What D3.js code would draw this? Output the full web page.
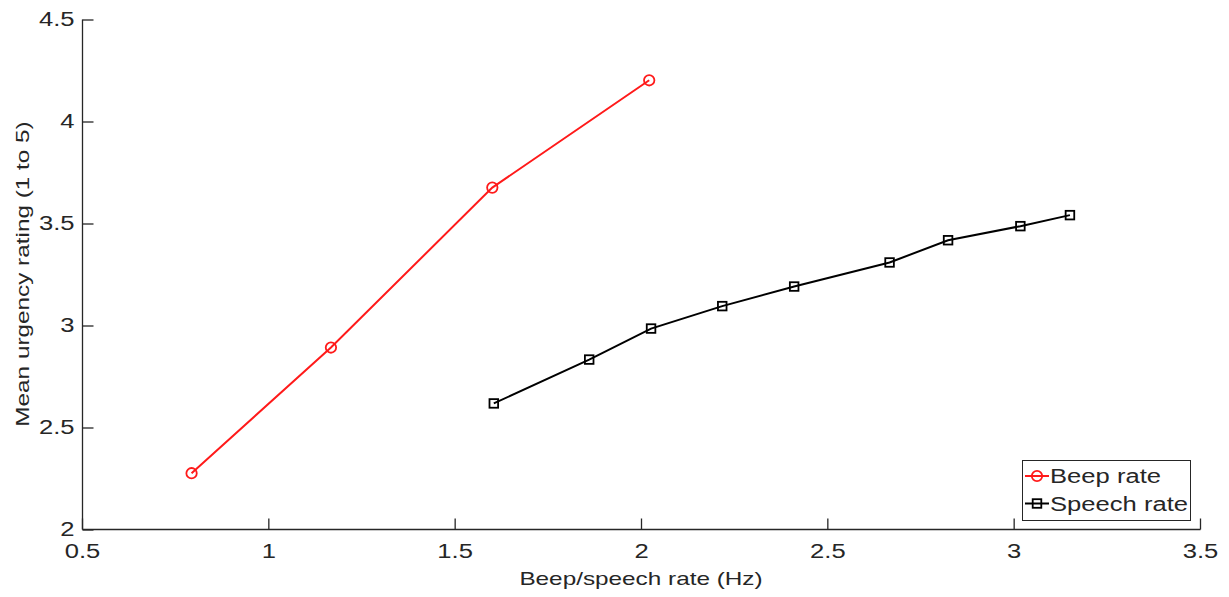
<!DOCTYPE html>
<html>
<head>
<meta charset="utf-8">
<script src="https://cdn.jsdelivr.net/npm/d3@7"></script>
<style>
    body { margin: 0; background: #fff; }
    text { font-family: "Liberation Sans", Arial, sans-serif; fill: #262626; }
</style>
</head>
<body>
<svg width="1229" height="597"></svg>
<script>
"use strict";

// Data
var beepRate = [0.794, 1.168, 1.601, 2.022];
var beepUrgency = [2.276, 2.892, 3.676, 4.202];

var speechRate = [1.605, 1.861, 2.027, 2.218, 2.411, 2.667, 2.824, 3.018, 3.151];
var speechUrgency = [2.618, 2.833, 2.985, 3.095, 3.191, 3.309, 3.418, 3.487, 3.541];

var xTicks = [0.5, 1, 1.5, 2, 2.5, 3, 3.5];
var yTicks = [2, 2.5, 3, 3.5, 4, 4.5];
var seriesNames = ["Beep rate", "Speech rate"];

// the reference text is drawn wider than it is tall
var stretch = 1.28;

var svg = d3.select("svg");

// Scales
var xScale = d3.scaleLinear()
    .domain([0.5, 3.5])
    .range([82, 1200]);

var yScale = d3.scaleLinear()
    .domain([2, 4.5])
    .range([529.5, 19.5]);

// Axes (ticks point inward)
var xAxis = d3.axisBottom(xScale)
    .tickValues(xTicks)
    .tickFormat(d3.format("~g"))
    .tickSize(-11)
    .tickPadding(23);

var yAxis = d3.axisLeft(yScale)
    .tickValues(yTicks)
    .tickFormat(d3.format("~g"))
    .tickSize(-11)
    .tickPadding(8);

var gx = svg.append("g")
    .attr("class", "x axis")
    .attr("transform", "translate(0, 529.5)")
    .call(xAxis);

var gy = svg.append("g")
    .attr("class", "y axis")
    .attr("transform", "translate(82.5, 0)")
    .call(yAxis);

svg.selectAll(".axis path, .axis line")
    .attr("stroke", "#262626")
    .attr("stroke-width", 1.3);
svg.selectAll(".axis path").attr("d", function() {
    return d3.select(this.parentNode).classed("x")
        ? "M82.5,0H1200.5"
        : "M0,19.5V529.5";
});
svg.selectAll(".axis text")
    .style("font-size", "20px")
    .attr("fill", "#262626");
gx.selectAll("text").attr("dy", "0.3em");
gy.selectAll("text").attr("x", -8);

// Axis labels
svg.append("text")
    .attr("class", "stretch")
    .attr("x", 641)
    .attr("y", 585)
    .style("text-anchor", "middle")
    .style("font-size", "19px")
    .text("Beep/speech rate (Hz)");

svg.append("text")
    .attr("transform", "translate(29, 274) rotate(-90) scale(" + stretch + ",1)")
    .style("text-anchor", "middle")
    .style("font-size", "19px")
    .text("Mean urgency rating (1 to 5)");

var line = d3.line()
    .x(function(d) { return xScale(d[0]); })
    .y(function(d) { return yScale(d[1]); });

// Beep series
var beepData = d3.zip(beepRate, beepUrgency);
svg.append("path")
    .datum(beepData)
    .attr("d", line)
    .attr("fill", "none")
    .attr("stroke", "#ff1a1a")
    .attr("stroke-width", 2);

svg.append("g")
    .selectAll("circle")
    .data(beepData)
    .enter().append("circle")
        .attr("cx", function(d) { return xScale(d[0]); })
        .attr("cy", function(d) { return yScale(d[1]); })
        .attr("r", 5.2)
        .attr("fill", "none")
        .attr("stroke", "#ff1a1a")
        .attr("stroke-width", 1.8);

// Speech series
var speechData = d3.zip(speechRate, speechUrgency);
svg.append("path")
    .datum(speechData)
    .attr("d", line)
    .attr("fill", "none")
    .attr("stroke", "#000")
    .attr("stroke-width", 2);

svg.append("g")
    .selectAll("rect")
    .data(speechData)
    .enter().append("rect")
        .attr("x", function(d) { return xScale(d[0]) - 4.3; })
        .attr("y", function(d) { return yScale(d[1]) - 4.3; })
        .attr("width", 8.6)
        .attr("height", 8.6)
        .attr("fill", "none")
        .attr("stroke", "#000")
        .attr("stroke-width", 1.8);

// Legend
var legend = svg.append("g")
    .attr("class", "legend")
    .attr("transform", "translate(1022, 460)");

legend.append("rect")
    .attr("x", 0.5)
    .attr("y", 0.5)
    .attr("width", 168)
    .attr("height", 60)
    .attr("fill", "#fff")
    .attr("stroke", "#262626")
    .attr("stroke-width", 1);

var colors = ["#ff1a1a", "#000"];
seriesNames.forEach(function(name, i) {
    var cy = 16 + i * 27.5;
    legend.append("line")
        .attr("x1", 3)
        .attr("x2", 27)
        .attr("y1", cy)
        .attr("y2", cy)
        .attr("stroke", colors[i])
        .attr("stroke-width", 2);
    if (i === 0) {
        legend.append("circle")
            .attr("cx", 15)
            .attr("cy", cy)
            .attr("r", 5.2)
            .attr("fill", "none")
            .attr("stroke", colors[i])
            .attr("stroke-width", 1.8);
    } else {
        legend.append("rect")
            .attr("x", 15 - 4.3)
            .attr("y", cy - 4.3)
            .attr("width", 8.6)
            .attr("height", 8.6)
            .attr("fill", "none")
            .attr("stroke", colors[i])
            .attr("stroke-width", 1.8);
    }
    legend.append("text")
        .attr("class", "stretch")
        .attr("x", 28)
        .attr("y", cy)
        .attr("dy", "0.36em")
        .style("font-size", "20px")
        .attr("fill", "#000")
        .text(name);
});

// Widen horizontal text to match the reference proportions
svg.selectAll(".axis text, text.stretch").each(function() {
    var t = d3.select(this);
    var x = +t.attr("x") || 0;
    t.attr("x", x / stretch)
        .attr("transform", "scale(" + stretch + ",1)");
});
</script>
</body>
</html>
